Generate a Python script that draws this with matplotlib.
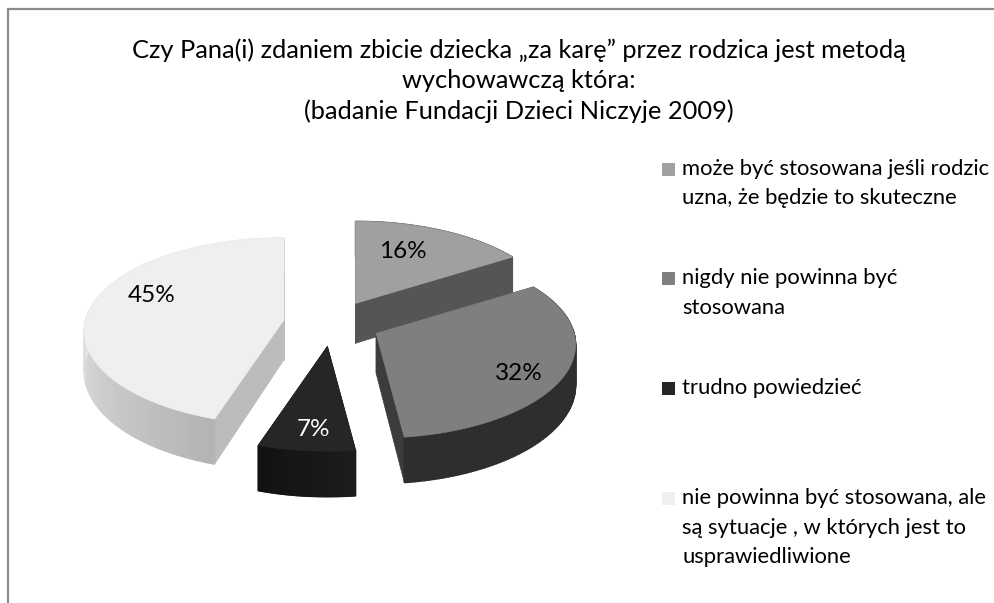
import numpy as np
import matplotlib
matplotlib.use("Agg")
import matplotlib.pyplot as plt

shares = [16, 32, 7, 45]
labels = ["16%", "32%", "7%", "45%"]
legend_lines = [
    ["może być stosowana jeśli rodzic", "uzna, że będzie to skuteczne"],
    ["nigdy nie powinna być", "stosowana"],
    ["trudno powiedzieć"],
    ["nie powinna być stosowana, ale", "są sytuacje , w których jest to", "usprawiedliwione"],
]
title_lines = [
    "Czy Pana(i) zdaniem zbicie dziecka „za karę” przez rodzica jest metodą",
    "wychowawczą która:",
    "(badanie Fundacji Dzieci Niczyje 2009)",
]

# colours: top face, cut faces, outer wall (start angle, end angle), label
top_colors = ["#a0a0a0", "#7f7f7f", "#262626", "#efefef"]
cut_colors = ["#555555", "#3c3c3c", "#161616", "#bcbcbc"]
wall_from = ["#555555", "#2e2e2e", "#1c1c1c", "#b4b4b4"]
wall_to = ["#555555", "#454545", "#121212", "#e6e6e6"]
label_colors = ["black", "black", "white", "black"]
label_xy = [(403, 252), (519, 374), (314, 429), (152, 296)]
draw_order = [0, 3, 1, 2]

# pie projection, in pixels of the picture
cx, cy = 332, 323.5
rad, rad_y, persp = 198, 92, 0.122
explode = 0.25
depth = 40


def project(theta, r=1.0):
    # theta runs clockwise from 12 o'clock
    x, y = r * np.sin(theta), r * np.cos(theta)
    s = 1 / (1 + persp * y)
    return rad * x * s, -rad_y * y * s, depth * s


def mix(c1, c2, t):
    a, b = np.array(matplotlib.colors.to_rgb(c1)), np.array(matplotlib.colors.to_rgb(c2))
    return tuple(a + (b - a) * t)


plt.rcParams["font.family"] = ["Lato", "DejaVu Sans"]
fig = plt.figure(figsize=(9.95, 6.03), dpi=100)
ax = fig.add_axes([0, 0, 1, 1])
ax.set_xlim(0, 995)
ax.set_ylim(603, 0)
ax.axis("off")

# frame of the chart, cut off on the right and at the bottom
ax.plot([8, 8, 995], [603, 9, 9], color="#8c8c8c", lw=1.6, solid_joinstyle="miter")

edges = np.concatenate([[0], np.cumsum(shares)]) / sum(shares) * 2 * np.pi
for i in draw_order:
    a0, a1 = edges[i], edges[i + 1]
    mid = (a0 + a1) / 2
    ox = cx + explode * 195 * np.sin(mid)
    oy = cy - explode * rad_y * np.cos(mid)
    th = np.linspace(a0, a1, 90)
    px, py, pd = project(th)
    px, py = px + ox, py + oy
    z = 2 + draw_order.index(i)

    # cut faces
    for k in (0, -1):
        ax.fill([ox, px[k], px[k], ox], [oy, py[k], py[k] + pd[k], oy + depth],
                color=cut_colors[i], lw=0.5, zorder=z)
    # outer wall, shaded in thin strips
    for k in range(len(th) - 1):
        t = k / (len(th) - 2)
        if i == 1:
            c = mix(wall_to[i], wall_from[i], min(t * 4, 1))
        elif i == 3:
            c = mix(wall_from[i], wall_to[i], min(t * 2, 1))
        else:
            c = mix(wall_from[i], wall_to[i], t)
        ax.fill([px[k], px[k + 1], px[k + 1], px[k]],
                [py[k], py[k + 1], py[k + 1] + pd[k + 1], py[k] + pd[k]],
                color=c, lw=1.0, zorder=z)
    # top face
    ax.fill(np.r_[ox, px], np.r_[oy, py], color=top_colors[i], lw=0.5, zorder=z)
    ax.text(*label_xy[i], labels[i], color=label_colors[i], fontsize=17.5,
            ha="center", va="center", zorder=10)

for y, line in zip([50, 80, 111], title_lines):
    ax.text(518.5, y, line, fontsize=18.3, ha="center", va="center", color="black")

# legend
key_y = [169, 278, 388, 498]
for i, lines in enumerate(legend_lines):
    ax.fill([662, 675, 675, 662], [key_y[i] - 6.5, key_y[i] - 6.5, key_y[i] + 6.5, key_y[i] + 6.5],
            color=top_colors[i], lw=0)
    for j, line in enumerate(lines):
        ax.text(682, key_y[i] + j * 29.5, line, fontsize=15.8, ha="left", va="center", color="black")

fig.savefig("out.png", dpi=100)
